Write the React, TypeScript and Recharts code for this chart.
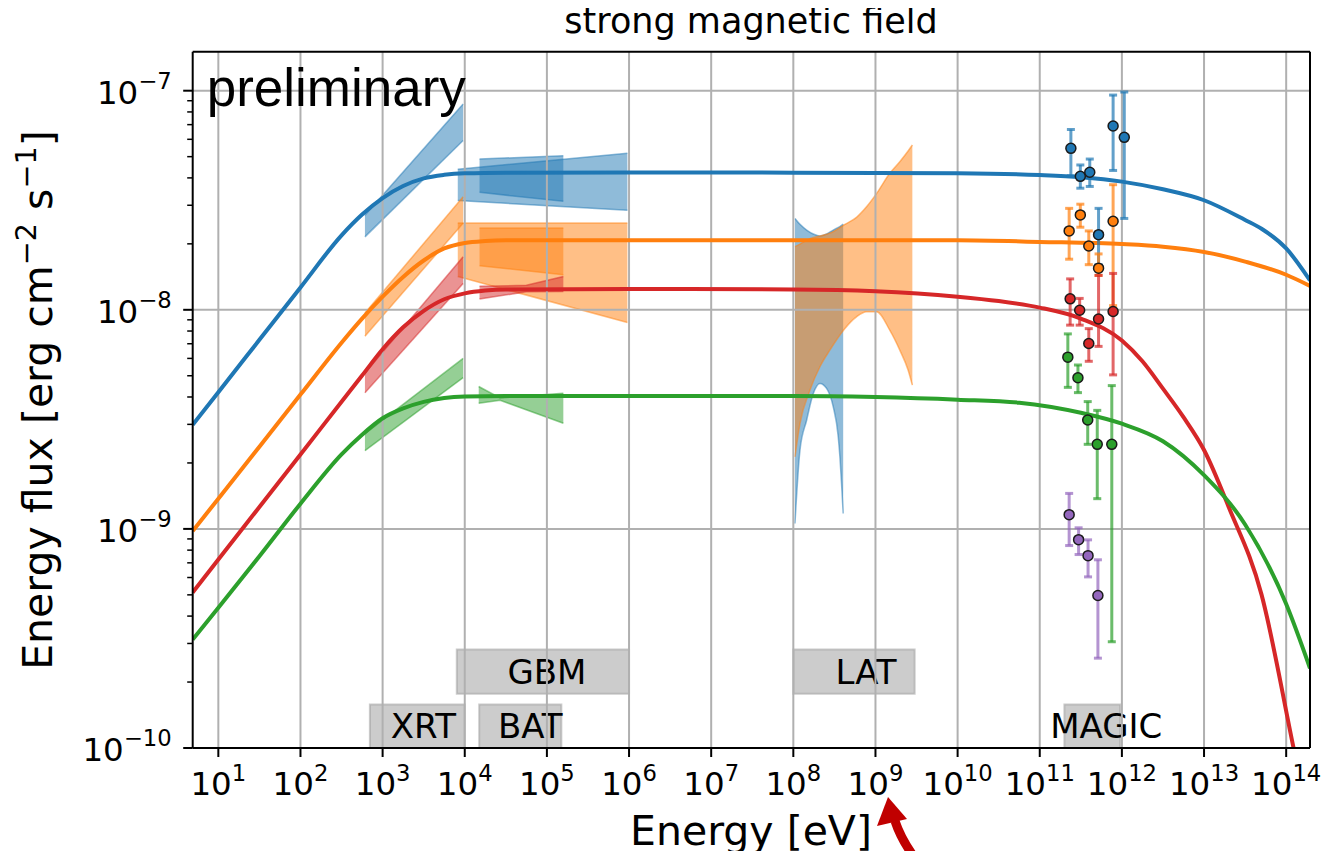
import React from 'react';
import {
  ComposedChart, XAxis, YAxis, Line, Area, Scatter, ErrorBar,
  ReferenceLine, ReferenceArea,
} from 'recharts';

// ---------- axes (log10 units) ----------
const X_MIN = 0.688;
const X_MAX = 14.29;
const Y_MIN = -10;
const Y_MAX = -6.822;
const X_TICKS = [1, 2, 3, 4, 5, 6, 7, 8, 9, 10, 11, 12, 13, 14];
const Y_MAJOR = [-10, -9, -8, -7];
const Y_MINOR_FACTORS = [2, 3, 4, 5, 6, 7, 8, 9];

// ---------- model curves: [log10 E(eV), log10 flux] ----------
const BLUE_CURVE = [
  [0.688, -8.525], [1, -8.376], [1.5, -8.137], [2, -7.898], [2.5, -7.66], [2.75, -7.565],
  [3, -7.49], [3.25, -7.435], [3.5, -7.40], [3.75, -7.384], [4, -7.377], [4.5, -7.374],
  [6, -7.373], [8, -7.374], [10, -7.377], [11, -7.385], [11.5, -7.395], [12, -7.415],
  [12.5, -7.45], [13, -7.50], [13.5, -7.59], [13.7, -7.63], [14, -7.72], [14.29, -7.866],
];
const ORANGE_CURVE = [
  [0.688, -9.01], [1, -8.862], [1.5, -8.625], [2, -8.387], [2.5, -8.15], [2.75, -8.04],
  [3, -7.94], [3.25, -7.85], [3.5, -7.775], [3.75, -7.72], [4, -7.695], [4.25, -7.686],
  [4.5, -7.683], [6, -7.682], [8, -7.682], [10, -7.683], [11, -7.69], [12, -7.70],
  [12.5, -7.712], [13, -7.736], [13.5, -7.78], [14, -7.84], [14.29, -7.891],
];
const RED_CURVE = [
  [0.688, -9.29], [1, -9.14], [1.5, -8.90], [2, -8.66], [2.5, -8.42], [2.75, -8.30],
  [3, -8.18], [3.25, -8.08], [3.5, -8.005], [3.75, -7.952], [4, -7.925], [4.25, -7.912],
  [4.5, -7.907], [6, -7.905], [8, -7.907], [9, -7.915], [10, -7.94], [10.5, -7.96],
  [11, -7.99], [11.5, -8.04], [12, -8.14], [12.25, -8.235], [12.5, -8.36], [12.75, -8.49],
  [13, -8.64], [13.3, -8.9], [13.7, -9.3], [14.09, -10.0], [14.2, -10.2],
];
const GREEN_CURVE = [
  [0.688, -9.505], [1, -9.36], [1.5, -9.125], [2, -8.885], [2.5, -8.66], [2.75, -8.57],
  [3, -8.495], [3.25, -8.45], [3.5, -8.42], [3.75, -8.403], [4, -8.396], [4.5, -8.393],
  [6, -8.393], [8, -8.393], [9, -8.398], [10, -8.41], [10.75, -8.424], [11.5, -8.47],
  [12, -8.52], [12.5, -8.60], [13, -8.755], [13.5, -8.98], [14, -9.343], [14.29, -9.636],
];

// ---------- instrument bands: [log10 E, low, high] ----------
const BLUE_XRT = [[2.785, -7.667, -7.568], [3.98, -7.227, -7.061]];
const ORANGE_XRT = [[2.785, -8.121, -8.015], [3.98, -7.605, -7.484]];
const RED_XRT = [[2.785, -8.379, -8.288], [3.98, -7.88, -7.758]];
const GREEN_XRT = [[2.785, -8.643, -8.565], [3.98, -8.31, -8.222]];

const BLUE_BAT = [[4.18, -7.464, -7.312], [5.2, -7.505, -7.297]];
const ORANGE_BAT = [[4.18, -7.799, -7.627], [5.2, -7.840, -7.627]];
const RED_BAT = [[4.18, -7.951, -7.893], [4.75, -7.918, -7.888], [5.2, -7.916, -7.848]];
const GREEN_BAT = [[4.17, -8.426, -8.35], [4.43, -8.413, -8.402], [5.2, -8.518, -8.381]];

const BLUE_GBM = [[3.915, -7.501, -7.358], [5.98, -7.546, -7.285]];
const ORANGE_GBM = [[3.915, -7.848, -7.604], [5.98, -8.058, -7.604]];

const BLUE_LAT = [
  [8.02, -8.975, -7.583], [8.081, -8.641, -7.61], [8.162, -8.504, -7.636],
  [8.243, -8.382, -7.654], [8.324, -8.336, -7.663], [8.405, -8.359, -7.654],
  [8.486, -8.443, -7.636], [8.547, -8.58, -7.624], [8.567, -8.671, -7.62],
  [8.587, -8.793, -7.615], [8.607, -8.93, -7.609],
];
const ORANGE_LAT = [
  [8.02, -8.671, -7.712], [8.081, -8.519, -7.70], [8.202, -8.367, -7.675],
  [8.324, -8.26, -7.663], [8.445, -8.184, -7.65], [8.628, -8.085, -7.61],
  [8.769, -8.032, -7.578], [8.891, -8.009, -7.53], [9.012, -8.009, -7.47],
  [9.174, -8.093, -7.377], [9.296, -8.184, -7.324], [9.397, -8.275, -7.275],
  [9.449, -8.344, -7.248],
];

// ---------- MAGIC points: [log10 E, log10 flux, low, high] ----------
const BLUE_MAGIC = [
  [11.379, -7.263, -7.388, -7.177], [11.494, -7.391, -7.445, -7.339],
  [11.609, -7.372, -7.437, -7.312], [11.716, -7.657, -7.794, -7.537],
  [11.893, -7.161, -7.364, -7.02], [12.029, -7.213, -7.583, -7.006],
];
const ORANGE_MAGIC = [
  [11.358, -7.64, -7.769, -7.537], [11.494, -7.567, -7.623, -7.518],
  [11.597, -7.709, -7.794, -7.64], [11.716, -7.81, -7.843, -7.745],
  [11.893, -7.596, -7.981, -7.429],
];
const RED_MAGIC = [
  [11.37, -7.95, -8.07, -7.859], [11.486, -8.002, -8.07, -7.948],
  [11.597, -8.154, -8.235, -8.086], [11.716, -8.042, -8.167, -7.843],
  [11.893, -8.008, -8.297, -7.834],
];
const GREEN_MAGIC = [
  [11.342, -8.216, -8.354, -8.11], [11.465, -8.31, -8.378, -8.252],
  [11.584, -8.503, -8.614, -8.419], [11.7, -8.614, -8.862, -8.459],
  [11.877, -8.614, -9.515, -8.346],
];
const PURPLE_MAGIC = [
  [11.358, -8.935, -9.076, -8.838], [11.473, -9.049, -9.117, -8.995],
  [11.588, -9.122, -9.219, -9.05], [11.708, -9.304, -9.59, -9.141],
];

// ---------- instrument boxes: [name, xFrom, xTo, yFrom, yTo, labelShift] ----------
const INSTRUMENTS: [string, number, number, number, number, number][] = [
  ['GBM', 3.903, 6.0, -9.752, -9.551, 4],
  ['LAT', 8.0, 9.477, -9.752, -9.551, 12],
  ['XRT', 2.845, 4.0, -10, -9.802, 6],
  ['BAT', 4.176, 5.176, -10, -9.802, 10],
  ['MAGIC', 11.3, 11.98, -10, -9.802, 14],
];

const C_BLUE = '#1f77b4';
const C_ORANGE = '#ff7f0e';
const C_RED = '#d62728';
const C_GREEN = '#2ca02c';
const C_PURPLE = '#9467bd';
const FONT = '"DejaVu Sans", Verdana, sans-serif';

const toPts = (a: number[][]) => a.map(([x, y]) => ({ x, y }));
const toBand = (a: number[][]) => a.map(([x, lo, hi]) => ({ x, r: [lo, hi] }));
const toMagic = (a: number[][]) => a.map(([x, y, lo, hi]) => ({ x, y, err: [y - lo, hi - y] }));

const Y_TICKS: number[] = [...Y_MAJOR];
for (let n = -10; n < -7; n++) {
  for (const k of Y_MINOR_FACTORS) Y_TICKS.push(n + Math.log10(k));
}
Y_TICKS.sort((a, b) => a - b);

const XTick = (props: any) => {
  const { x, y, payload } = props;
  return (
    <g>
      <line x1={x} x2={x} y1={y} y2={y + 9} stroke="#000" strokeWidth={2} />
      <text x={x} y={y + 47} textAnchor="middle" fontFamily={FONT} fontSize={32.5} fill="#000">
        <tspan>10</tspan>
        <tspan dy={-14} fontSize={22.7}>{payload.value}</tspan>
      </text>
    </g>
  );
};

const YTick = (props: any) => {
  const { x, y, payload } = props;
  const v = payload.value;
  const major = Math.abs(v - Math.round(v)) < 1e-9;
  if (!major) {
    return <line x1={x - 5.5} x2={x} y1={y} y2={y} stroke="#000" strokeWidth={1.5} />;
  }
  return (
    <g>
      <line x1={x - 9.5} x2={x} y1={y} y2={y} stroke="#000" strokeWidth={2} />
      <text x={x - 21} y={y + 13} textAnchor="end" fontFamily={FONT} fontSize={32.5} fill="#000">
        <tspan>10</tspan>
        <tspan dy={-15} fontSize={22.7}>{'\u2212' + Math.abs(Math.round(v))}</tspan>
      </text>
    </g>
  );
};

const boxLabel = (text: string, shift: number) => (props: any) => {
  const vb = props.viewBox || {};
  return (
    <text
      x={vb.x + vb.width / 2 + shift}
      y={vb.y + vb.height / 2}
      textAnchor="middle"
      dominantBaseline="central"
      fontFamily={FONT}
      fontSize={34}
      fill="#000"
    >
      {text}
    </text>
  );
};

const band = (key: string, rows: number[][], color: string, curve: 'linear' | 'monotone' = 'linear') => (
  <Area
    key={key}
    data={toBand(rows)}
    dataKey="r"
    type={curve}
    stroke={color}
    strokeOpacity={0.5}
    strokeWidth={1.5}
    fill={color}
    fillOpacity={0.5}
    dot={false}
    activeDot={false}
    isAnimationActive={false}
  />
);

const curve = (key: string, rows: number[][], color: string) => (
  <Line
    key={key}
    data={toPts(rows)}
    dataKey="y"
    type="monotone"
    stroke={color}
    strokeWidth={4}
    dot={false}
    activeDot={false}
    isAnimationActive={false}
  />
);

const magic = (key: string, rows: number[][], color: string) => (
  <Scatter
    key={key}
    data={toMagic(rows)}
    dataKey="y"
    fill={color}
    isAnimationActive={false}
    shape={(p: any) => (
      <circle cx={p.cx} cy={p.cy} r={5} fill={color} stroke="#1a1a1a" strokeWidth={1.5} />
    )}
  >
    <ErrorBar dataKey="err" direction="y" width={4} stroke={color} strokeOpacity={0.7} strokeWidth={3} isAnimationActive={false} />
  </Scatter>
);

export default function App() {
  return (
    <div style={{ position: 'relative', width: 1313, height: 843 }}>
      <ComposedChart width={1313} height={843} margin={{ top: 43.7, right: 11, bottom: 0, left: 0 }}>
        <XAxis
          type="number"
          dataKey="x"
          domain={[X_MIN, X_MAX]}
          allowDataOverflow
          ticks={X_TICKS}
          interval={0}
          tick={<XTick />}
          tickLine={false}
          tickSize={0}
          tickMargin={0}
          height={103}
          axisLine={{ stroke: '#000', strokeWidth: 2 }}
        />
        <YAxis
          type="number"
          domain={[Y_MIN, Y_MAX]}
          allowDataOverflow
          ticks={Y_TICKS}
          interval={0}
          tick={<YTick />}
          tickLine={false}
          tickSize={0}
          tickMargin={0}
          width={184.7}
          axisLine={{ stroke: '#000', strokeWidth: 2 }}
        />

        {X_TICKS.map((t) => (
          <ReferenceLine key={'gx' + t} x={t} stroke="#b0b0b0" strokeWidth={2} />
        ))}
        {Y_MAJOR.filter((t) => t > Y_MIN).map((t) => (
          <ReferenceLine key={'gy' + t} y={t} stroke="#b0b0b0" strokeWidth={2} />
        ))}

        {INSTRUMENTS.map(([name, x1, x2, y1, y2, shift]) => (
          <ReferenceArea
            key={name}
            x1={x1}
            x2={x2}
            y1={y1}
            y2={y2}
            fill="#808080"
            fillOpacity={0.4}
            stroke="#999999"
            strokeOpacity={0.5}
            strokeWidth={2}
            label={boxLabel(name, shift)}
          />
        ))}

        {band('bx', BLUE_XRT, C_BLUE)}
        {band('bb', BLUE_BAT, C_BLUE)}
        {band('bg', BLUE_GBM, C_BLUE)}
        {band('bl', BLUE_LAT, C_BLUE, 'monotone')}
        {band('ox', ORANGE_XRT, C_ORANGE)}
        {band('ob', ORANGE_BAT, C_ORANGE)}
        {band('og', ORANGE_GBM, C_ORANGE)}
        {band('ol', ORANGE_LAT, C_ORANGE, 'monotone')}
        {band('rx', RED_XRT, C_RED)}
        {band('rb', RED_BAT, C_RED)}
        {band('gx', GREEN_XRT, C_GREEN)}
        {band('gb', GREEN_BAT, C_GREEN)}

        {curve('cb', BLUE_CURVE, C_BLUE)}
        {curve('co', ORANGE_CURVE, C_ORANGE)}
        {curve('cr', RED_CURVE, C_RED)}
        {curve('cg', GREEN_CURVE, C_GREEN)}

        {magic('mb', BLUE_MAGIC, C_BLUE)}
        {magic('mo', ORANGE_MAGIC, C_ORANGE)}
        {magic('mr', RED_MAGIC, C_RED)}
        {magic('mg', GREEN_MAGIC, C_GREEN)}
        {magic('mp', PURPLE_MAGIC, C_PURPLE)}

        <ReferenceLine y={Y_MAX} stroke="#000" strokeWidth={2} />
        <ReferenceLine x={X_MAX} stroke="#000" strokeWidth={2} />
      </ComposedChart>

      <svg
        width={1329}
        height={859}
        style={{ position: 'absolute', left: -8, top: -8, pointerEvents: 'none', overflow: 'visible' }}
      >
        <text x={751} y={33} textAnchor="middle" fontFamily={FONT} fontSize={35} fill="#000">
          strong magnetic field
        </text>
        <text x={751} y={845} textAnchor="middle" fontFamily={FONT} fontSize={41} fill="#000">
          Energy [eV]
        </text>
        <text
          x={52}
          y={400}
          textAnchor="middle"
          fontFamily={FONT}
          fontSize={41}
          fill="#000"
          transform="rotate(-90, 52, 400)"
        >
          <tspan>Energy flux [erg cm</tspan>
          <tspan dy={-16} fontSize={28.7}>{'\u22122'}</tspan>
          <tspan dy={16}> s</tspan>
          <tspan dy={-16} fontSize={28.7}>{'\u22121'}</tspan>
          <tspan dy={16}>]</tspan>
        </text>
        <text x={206.7} y={106} fontFamily='"Liberation Sans", Arial, sans-serif' fontSize={53} fill="#000">
          preliminary
        </text>
        <path d="M 918 862 Q 902 842 895 821" stroke="#c00000" strokeWidth={9} fill="none" />
        <polygon points="888,797 877,826 907,819" fill="#c00000" />
      </svg>
    </div>
  );
}
